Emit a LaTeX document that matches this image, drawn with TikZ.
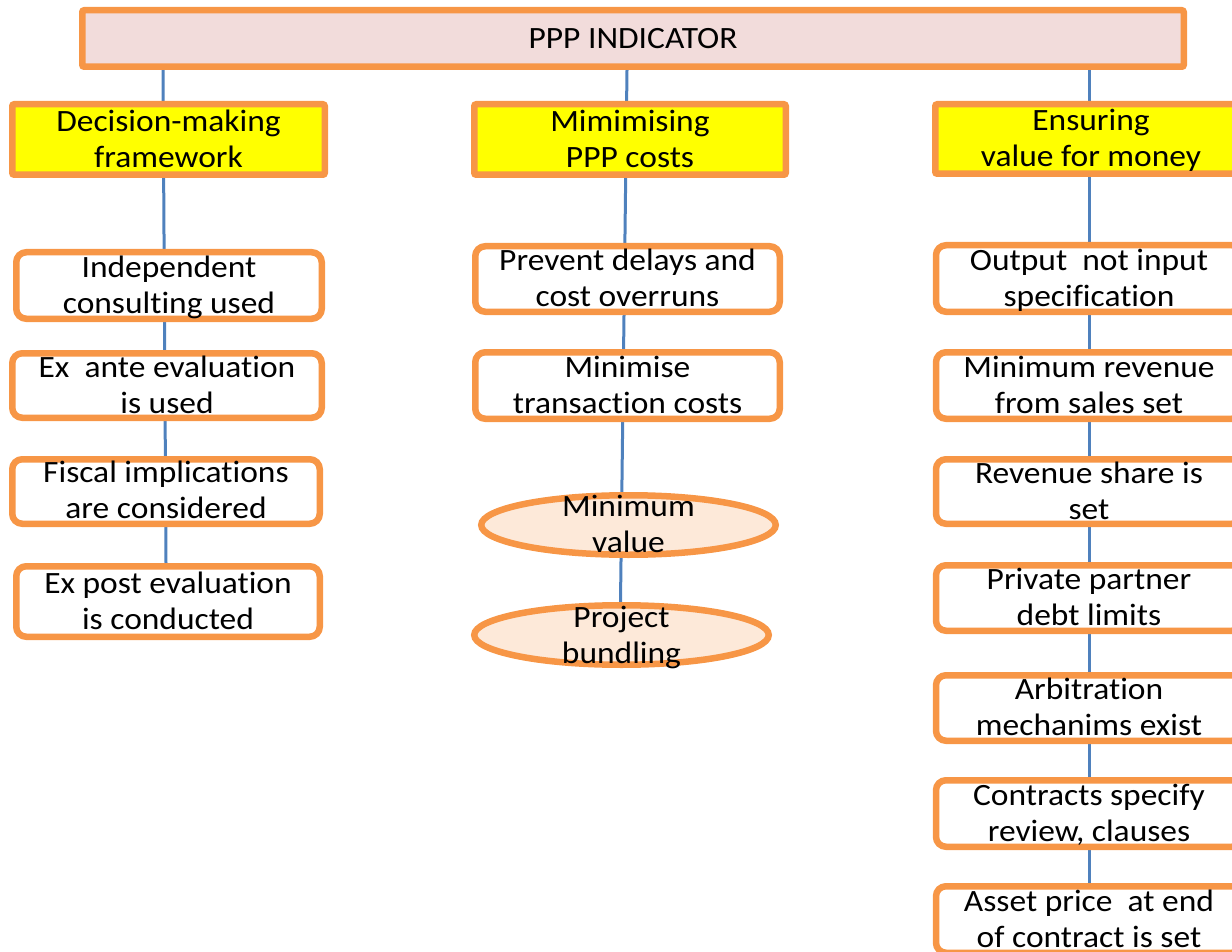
\documentclass[tikz,border=0pt]{standalone}
\usepackage{fontspec}
\setmainfont{Carlito}[FakeStretch=1.08, Ligatures={NoCommon,NoContextual}, Contextuals=NoAlternate]
\usetikzlibrary{shapes.geometric}
\definecolor{borange}{HTML}{F79646}
\definecolor{toppink}{HTML}{F2DCDB}
\definecolor{ovalfill}{HTML}{FDE9D9}
\definecolor{lineblue}{HTML}{4F81BD}
\definecolor{headyellow}{HTML}{FFFF00}
\pgfdeclarelayer{bg}
\pgfsetlayers{bg,main}
\begin{document}
\begin{tikzpicture}[x=1pt,y=-1pt,
  boxbase/.style={draw=borange, line width=6.5pt, inner sep=0pt},
  topbox/.style={boxbase, fill=toppink, rounded corners=2pt},
  headbox/.style={boxbase, fill=headyellow, rounded corners=2pt},
  itembox/.style={boxbase, fill=white, rounded corners=10pt},
  ovalbox/.style={boxbase, ellipse, fill=ovalfill},
  txt/.style={font=\fontsize{31}{36}\selectfont, align=center, inner sep=0pt, text=black},
  conn/.style={draw=lineblue, line width=3pt}]
\useasboundingbox (0,0) rectangle (1232,952);
\clip (0,0) rectangle (1232,952);
% column x positions for connectors
\coordinate (lt) at (163,0);
\coordinate (lb) at (166,0);
\coordinate (ct) at (627,0);
\coordinate (cb) at (620.5,0);
\coordinate (rc) at (1089,0);
% top
\node[topbox, minimum width=1101.5pt, minimum height=56.5pt] (top) at (633,38.5) {};
\node[txt] (topT) at ([yshift=-3pt]top.center) {\strut PPP INDICATOR};
% heads
\node[headbox, minimum width=312.5pt, minimum height=70.5pt] (dec) at (168.5,139.5) {};
\node[txt] (decT) at ([yshift=-2.5pt]dec.center) {\strut Decision-making\\\strut framework};
\node[headbox, minimum width=311.5pt, minimum height=70.5pt] (mim) at (630,139.5) {};
\node[txt] (mimT) at ([yshift=-2.5pt]mim.center) {\strut Mimimising\\\strut PPP costs};
\node[headbox, minimum width=311.5pt, minimum height=69.5pt] (ens) at (1091,139) {};
\node[txt] (ensT) at ([yshift=-2pt]ens.center) {\strut Ensuring\\\strut value for money};
% left column
\node[itembox, minimum width=305.5pt, minimum height=66.5pt] (ind) at (169,285.5) {};
\node[txt] (indT) at ([yshift=-2.5pt]ind.center) {\strut Independent\\\strut consulting used};
\node[itembox, minimum width=309.5pt, minimum height=64.5pt] (exa) at (167,385.5) {};
\node[txt] (exaT) at ([yshift=-2.5pt]exa.center) {\strut Ex~ ante evaluation\\\strut is used};
\node[itembox, minimum width=307.5pt, minimum height=64.5pt] (fis) at (166,491.5) {};
\node[txt] (fisT) at ([yshift=-2pt]fis.center) {\strut Fiscal implications\\\strut are considered};
\node[itembox, minimum width=303.5pt, minimum height=70.5pt] (exp) at (168,601.5) {};
\node[txt] (expT) at ([yshift=-3pt]exp.center) {\strut Ex post evaluation\\\strut is conducted};
% middle column
\node[itembox, minimum width=304.5pt, minimum height=65.5pt] (prv) at (627.5,279) {};
\node[txt] (prvT) at ([yshift=-2.5pt]prv.center) {\strut Prevent delays and\\\strut cost overruns};
\node[itembox, minimum width=304.5pt, minimum height=66.5pt] (mnt) at (627.5,385.5) {};
\node[txt] (mntT) at ([yshift=-2.5pt]mnt.center) {\strut Minimise\\\strut transaction costs};
\node[ovalbox, minimum width=294.5pt, minimum height=59.5pt] (mv) at (628.5,525) {};
\node[txt] (mvT) at ([yshift=-2.5pt]mv.center) {\strut Minimum\\\strut value};
\node[ovalbox, minimum width=294.5pt, minimum height=59.5pt] (pb) at (621.5,635) {};
\node[txt] (pbT) at ([yshift=-3pt]pb.center) {\strut Project\\\strut bundling};
% right column
\node[itembox, minimum width=306pt, minimum height=66.5pt] (out) at (1089,278.5) {};
\node[txt] (outT) at ([yshift=-3pt]out.center) {\strut Output~ not input\\\strut specification};
\node[itembox, minimum width=306pt, minimum height=66.5pt] (mrv) at (1089,385.5) {};
\node[txt] (mrvT) at ([yshift=-2.5pt]mrv.center) {\strut Minimum revenue\\\strut from sales set};
\node[itembox, minimum width=306pt, minimum height=64.5pt] (rsh) at (1089,491.5) {};
\node[txt] (rshT) at ([yshift=-2.5pt]rsh.center) {\strut Revenue share is\\\strut set};
\node[itembox, minimum width=306pt, minimum height=65.5pt] (ppd) at (1089,598) {};
\node[txt] (ppdT) at ([yshift=-2.5pt]ppd.center) {\strut Private partner\\\strut debt limits};
\node[itembox, minimum width=306pt, minimum height=65.5pt] (arb) at (1089,708) {};
\node[txt] (arbT) at ([yshift=-2.5pt]arb.center) {\strut Arbitration\\\strut mechanims exist};
\node[itembox, minimum width=306pt, minimum height=66.5pt] (con) at (1089,813.5) {};
\node[txt] (conT) at ([yshift=-2.5pt]con.center) {\strut Contracts specify\\\strut review, clauses};
\node[itembox, minimum width=306pt, minimum height=66.5pt] (ass) at (1089,919.5) {};
\node[txt] (assT) at ([yshift=-2.5pt]ass.center) {\strut Asset price~ at end\\\strut of contract is set};
% connectors
\begin{pgfonlayer}{bg}
\draw[conn] (top.south -| lt) -- (exp.north -| lb);
\draw[conn] (top.south -| ct) -- (pb.north -| cb);
\draw[conn] (top.south -| rc) -- (ass.north -| rc);
\end{pgfonlayer}
\end{tikzpicture}
\end{document}
